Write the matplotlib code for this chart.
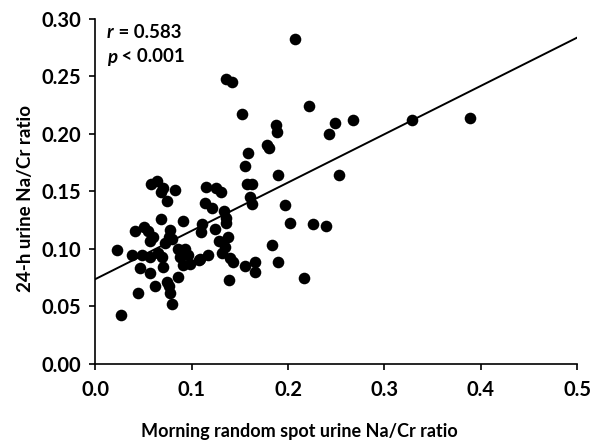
import matplotlib
matplotlib.use("Agg")
import matplotlib.pyplot as plt
import numpy as np

plt.rcParams['font.family'] = ['Lato', 'DejaVu Sans']

# spot urine Na/Cr (x) vs 24-h urine Na/Cr (y)
spot = [0.022, 0.026, 0.044, 0.038, 0.048, 0.057, 0.065, 0.041, 0.050, 0.055,
        0.060, 0.057, 0.058, 0.064, 0.068, 0.074, 0.083, 0.070, 0.068, 0.091,
        0.077, 0.076, 0.072, 0.079, 0.069, 0.070, 0.086, 0.093, 0.096, 0.088,
        0.091, 0.098, 0.107, 0.046, 0.057, 0.086, 0.074, 0.076, 0.077, 0.062,
        0.079,
        0.135, 0.142, 0.152, 0.207, 0.187, 0.188, 0.178, 0.180, 0.158, 0.155,
        0.189, 0.157, 0.163, 0.160, 0.163, 0.197, 0.202, 0.115, 0.125, 0.130,
        0.114, 0.121, 0.133, 0.135, 0.136, 0.111, 0.110, 0.124, 0.128, 0.138,
        0.134, 0.131, 0.108, 0.117, 0.140, 0.143, 0.155, 0.166, 0.166, 0.183,
        0.190, 0.139, 0.2165,
        0.222, 0.249, 0.242, 0.267, 0.253, 0.226, 0.239, 0.329, 0.389]
h24 = [0.099, 0.042, 0.061, 0.0945, 0.0945, 0.093, 0.096, 0.115, 0.119, 0.115,
       0.110, 0.107, 0.156, 0.159, 0.149, 0.141, 0.151, 0.153, 0.126, 0.124,
       0.116, 0.110, 0.105, 0.108, 0.093, 0.084, 0.100, 0.100, 0.0945, 0.093,
       0.086, 0.087, 0.090, 0.083, 0.079, 0.0756, 0.071, 0.067, 0.061, 0.067,
       0.052,
       0.2476, 0.2452, 0.2173, 0.282, 0.2075, 0.2017, 0.190, 0.1875, 0.183, 0.172,
       0.164, 0.156, 0.156, 0.145, 0.139, 0.138, 0.122, 0.1535, 0.1526, 0.149,
       0.1395, 0.135, 0.133, 0.127, 0.122, 0.1215, 0.114, 0.117, 0.107, 0.110,
       0.101, 0.096, 0.091, 0.0945, 0.0916, 0.0887, 0.085, 0.0887, 0.080, 0.103,
       0.088, 0.073, 0.074,
       0.224, 0.209, 0.200, 0.212, 0.164, 0.121, 0.120, 0.2115, 0.214]

# regression line
intercept = 0.0735
slope = 0.42

fig = plt.figure(figsize=(5.92, 4.42), dpi=100)
ax = fig.add_axes([0.1613, 0.1776, 0.8134, 0.7801])

ax.scatter(spot, h24, s=70, color='black', zorder=3, linewidths=0)
xl = np.array([0.0, 0.5])
ax.plot(xl, intercept + slope * xl, color='black', lw=1.4)

ax.set_xlim(0, 0.5)
ax.set_ylim(0, 0.30)
ax.set_xticks(np.arange(0, 0.51, 0.1))
ax.set_yticks(np.arange(0, 0.31, 0.05))
ax.set_xticklabels([f"{v:.1f}" for v in np.arange(0, 0.51, 0.1)])
ax.set_yticklabels([f"{v:.2f}" for v in np.arange(0, 0.31, 0.05)])
for s in ['top', 'right']:
    ax.spines[s].set_visible(False)
for s in ['left', 'bottom']:
    ax.spines[s].set_linewidth(1.2)
ax.tick_params(direction='out', length=4, width=1.2, labelsize=14.5, pad=6)
for lab in ax.get_xticklabels() + ax.get_yticklabels():
    lab.set_fontweight('bold')
ax.tick_params(axis='x', pad=8)

fig.text(299 / 592, 1 - 432 / 442, "Morning random spot urine Na/Cr ratio",
         ha='center', va='center', fontsize=13, fontweight='bold')
fig.text(26 / 592, 1 - 198 / 442, "24-h urine Na/Cr ratio", rotation=90,
         ha='center', va='center', fontsize=13.5, fontweight='bold')

t1 = fig.text(107 / 592, 1 - 32 / 442, "r", style='italic', fontweight='bold',
              fontsize=13.5, va='center', ha='left')
ax.annotate(" = 0.583", xy=(1, 0.5), xycoords=t1, va='center', ha='left',
            fontsize=13.5, fontweight='bold')
t2 = fig.text(107 / 592, 1 - 57 / 442, "p", style='italic', fontweight='bold',
              fontsize=13.5, va='center', ha='left')
ax.annotate(" < 0.001", xy=(1, 0.5), xycoords=t2, va='center', ha='left',
            fontsize=13.5, fontweight='bold')

fig.savefig("out.png", dpi=100)
